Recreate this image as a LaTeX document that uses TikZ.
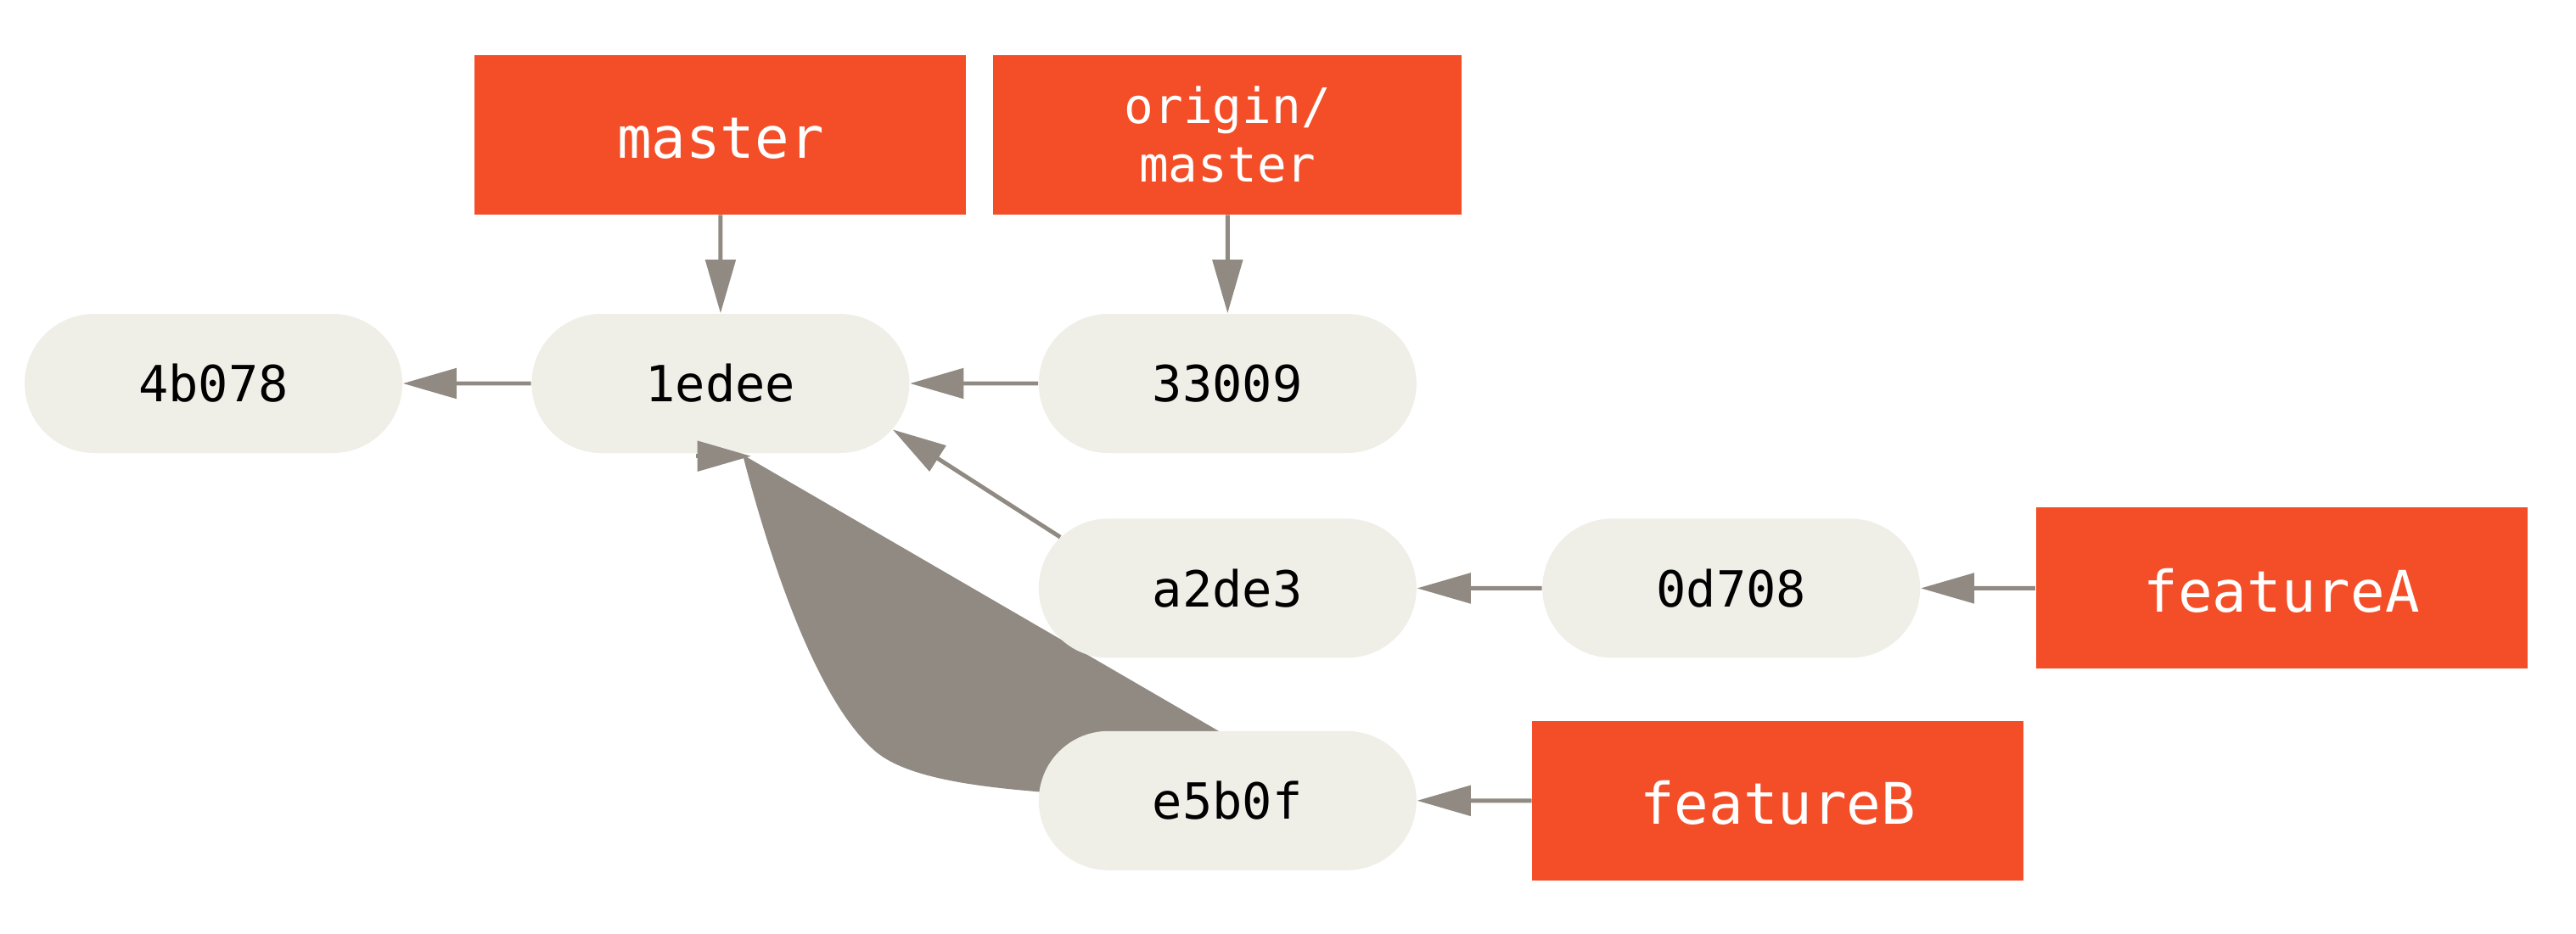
\documentclass[tikz,border=0pt]{standalone}
\usepackage{fontspec}
\newfontfamily\gitfont{DejaVu Sans Mono}
\usetikzlibrary{shapes.misc,arrows.meta,positioning,backgrounds}
\definecolor{commitfill}{RGB}{239,238,231}
\definecolor{branchred}{RGB}{244,78,41}
\definecolor{linkgray}{RGB}{144,138,131}
\tikzset{
  commit/.style={rounded rectangle, fill=commitfill, minimum width=4.45cm,
    minimum height=1.64cm, inner sep=0pt, font=\gitfont\fontsize{16.7}{20}\selectfont},
  branch/.style={rectangle, fill=branchred, text=white, minimum width=5.79cm,
    minimum height=1.88cm, inner sep=0pt, text height=0.56cm, text depth=0pt,
    font=\gitfont\fontsize{19.2}{23}\selectfont},
  link/.style={draw=linkgray, line width=1.4pt, -{Triangle[length=18pt,width=10pt]}}
}
\begin{document}
\begin{tikzpicture}
  \useasboundingbox (0,0) rectangle (30.35,-11);
  % draw commits
  \node[commit] (c4b078) at (2.515,-4.52) {4b078};
  \node[commit, right=1.51cm of c4b078] (c1edee) {1edee};
  \node[commit, right=1.51cm of c1edee] (c33009) {33009};
  \node[commit, below=0.76cm of c33009] (ca2de3) {a2de3};
  \node[commit, right=1.47cm of ca2de3] (c0d708) {0d708};
  \node[commit, below=0.85cm of ca2de3] (ce5b0f) {e5b0f};
  % draw branches
  \node[branch, above=1.16cm of c1edee] (master) {master};
  \node[branch, above=1.16cm of c33009, minimum width=5.52cm, align=center,
    text height={}, text depth={}, font=\gitfont\fontsize{16.4}{19.7}\selectfont] (origin) {origin/\\master};
  \node[branch, right=1.35cm of c0d708, minimum height=1.9cm] (featureA) {featureA};
  \node[branch, right=1.35cm of ce5b0f] (featureB) {featureB};
  % draw parents
  \draw[link] (c1edee) -- (c4b078);
  \draw[link] (c33009) -- (c1edee);
  \draw[link] (ca2de3.163) -- (c1edee.-15);
  \draw[link] (c0d708) -- (ca2de3);
  % draw the filled merge link
  \begin{pgfonlayer}{background}
    \fill[linkgray] (8.75,-5.36) .. controls (9.15,-6.90) and (9.70,-8.35) .. (10.33,-8.87)
      .. controls (10.70,-9.17) and (11.50,-9.27) .. (12.20,-9.33)
      -- (13.00,-9.40) -- (14.50,-8.70) -- cycle;
  \end{pgfonlayer}
  \draw[link] ([xshift=-0.29cm,yshift=-0.03cm]c1edee.south) -- ([xshift=0.36cm,yshift=-0.03cm]c1edee.south);
  % draw branch pointers
  \draw[link] (master) -- (c1edee);
  \draw[link] (origin) -- (c33009);
  \draw[link] (featureA) -- (c0d708);
  \draw[link] (featureB) -- (ce5b0f);
\end{tikzpicture}
\end{document}
